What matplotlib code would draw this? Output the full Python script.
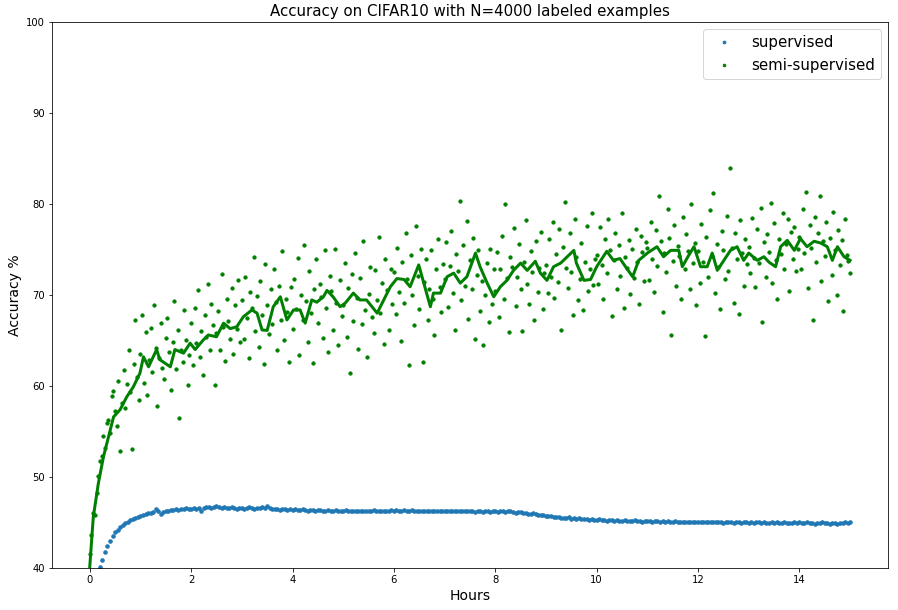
import numpy as np
import matplotlib
matplotlib.use("Agg")
import matplotlib.pyplot as plt

# ---- data ----
supervised_acc = [
    36.0, 37.2, 38.3, 39.3, 40.1, 40.9, 41.7, 42.4, 43.0, 43.5, 43.9, 44.2, 44.5, 44.7, 44.9, 45.1, 45.3, 45.4, 45.5, 45.6,
    45.7, 45.8, 45.9, 46.0, 46.0, 46.1, 46.5, 46.3, 45.9, 46.1, 46.2, 46.3, 46.4, 46.4, 46.5, 46.4, 46.5, 46.5, 46.6, 46.5,
    46.5, 46.6, 46.5, 46.6, 46.3, 46.6, 46.7, 46.7, 46.6, 46.7, 46.8, 46.7, 46.6, 46.7, 46.6, 46.6, 46.7, 46.6, 46.5, 46.6,
    46.6, 46.5, 46.6, 46.7, 46.6, 46.5, 46.6, 46.6, 46.7, 46.6, 46.8, 46.6, 46.5, 46.5, 46.5, 46.4, 46.5, 46.5, 46.4, 46.5,
    46.4, 46.5, 46.4, 46.4, 46.5, 46.4, 46.3, 46.4, 46.4, 46.3, 46.4, 46.4, 46.3, 46.3, 46.4, 46.3, 46.3, 46.4, 46.3, 46.3,
    46.3, 46.4, 46.3, 46.2, 46.3, 46.3, 46.2, 46.3, 46.3, 46.2, 46.3, 46.3, 46.4, 46.3, 46.3, 46.2, 46.3, 46.3, 46.3, 46.4,
    46.3, 46.4, 46.3, 46.3, 46.4, 46.3, 46.3, 46.4, 46.3, 46.2, 46.3, 46.3, 46.2, 46.3, 46.2, 46.2, 46.3, 46.2, 46.2, 46.3,
    46.2, 46.2, 46.3, 46.2, 46.2, 46.3, 46.2, 46.2, 46.2, 46.3, 46.2, 46.2, 46.1, 46.2, 46.2, 46.1, 46.2, 46.2, 46.1, 46.2,
    46.2, 46.1, 46.2, 46.2, 46.1, 46.2, 46.2, 46.1, 46.0, 46.1, 46.1, 46.0, 46.0, 45.9, 45.9, 46.0, 45.9, 45.8, 45.8, 45.8,
    45.7, 45.7, 45.7, 45.6, 45.6, 45.6, 45.5, 45.5, 45.5, 45.6, 45.4, 45.5, 45.4, 45.5, 45.4, 45.4, 45.4, 45.3, 45.4, 45.3,
    45.3, 45.4, 45.3, 45.3, 45.2, 45.3, 45.3, 45.2, 45.3, 45.2, 45.2, 45.3, 45.2, 45.2, 45.2, 45.3, 45.2, 45.2, 45.1, 45.2,
    45.2, 45.2, 45.1, 45.2, 45.2, 45.1, 45.2, 45.1, 45.2, 45.1, 45.1, 45.2, 45.1, 45.1, 45.1, 45.0, 45.1, 45.1, 45.0, 45.1,
    45.1, 45.0, 45.1, 45.1, 45.0, 45.1, 45.0, 45.0, 45.1, 45.0, 44.9, 45.0, 45.1, 45.0, 44.9, 45.0, 45.0, 44.9, 45.0, 45.0,
    44.9, 45.0, 44.9, 45.0, 45.0, 44.9, 45.0, 44.9, 44.9, 45.0, 44.9, 45.0, 44.9, 44.9, 45.0, 44.9, 44.9, 44.9, 45.0, 44.9,
    45.0, 44.9, 44.9, 45.0, 44.9, 44.9, 44.8, 44.9, 44.9, 45.0, 44.9, 44.9, 44.8, 44.9, 44.9, 44.8, 44.9, 44.9, 45.0, 44.9, 45.0,
]

semi_acc = [
    41.5, 43.6, 46.0, 45.8, 48.2, 50.1, 51.8, 52.3, 54.5, 53.2, 55.9, 56.3, 54.8, 58.9, 59.4, 57.2, 55.6, 60.5, 52.8, 58.1, 61.8, 57.6, 60.2, 63.9, 59.3, 53.1, 62.4, 67.2, 61.0, 58.4,
    63.5, 67.8, 60.3, 65.9, 59.0, 62.8, 66.4, 61.5, 68.9, 64.2, 57.8, 63.1, 66.9, 62.0, 60.8, 65.3, 67.5, 63.7, 59.6, 64.8, 69.3, 61.9, 66.2, 56.5, 64.0, 62.6, 68.3, 65.1, 60.1, 63.4,
    66.9, 62.3, 68.6, 64.7, 70.5, 63.2, 66.0, 61.2, 67.8, 65.4, 71.2, 63.9, 69.0, 66.7, 60.1, 65.8, 68.2, 64.0, 72.3, 66.5, 62.7, 69.6, 67.1, 65.2, 70.8, 63.5, 68.9, 66.3, 71.6, 64.8,
    69.4, 65.2, 72.0, 67.5, 63.1, 70.3, 68.6, 74.2, 66.0, 69.9, 64.3, 71.5, 67.8, 62.4, 73.4, 68.9, 65.7, 70.6, 66.8, 72.8, 69.2, 63.9, 71.0, 67.3, 74.8, 65.0, 69.6, 68.1, 62.6, 70.9,
    66.3, 71.8, 68.4, 74.1, 63.4, 70.0, 67.2, 75.5, 69.3, 64.8, 72.6, 68.0, 62.5, 70.7, 73.9, 66.9, 71.2, 69.8, 65.3, 74.9, 68.6, 63.7, 72.1, 70.4, 66.1, 75.0, 69.1, 64.5, 71.6, 67.7,
    68.9, 73.5, 65.4, 70.8, 61.4, 72.3, 67.1, 74.6, 69.7, 64.1, 71.9, 66.8, 75.9, 68.3, 63.2, 70.1, 73.1, 67.6, 65.8, 72.7, 69.4, 76.4, 68.0, 71.3, 64.6, 74.0, 70.5, 66.2, 72.9, 69.0,
    72.5, 67.9, 75.2, 70.3, 64.9, 73.6, 69.1, 76.8, 71.7, 62.3, 74.4, 70.0, 66.7, 77.6, 72.1, 68.5, 75.0, 62.6, 71.4, 73.9, 67.3, 70.6, 74.9, 69.6, 65.6, 72.8, 76.2, 70.9, 68.1, 73.4,
    71.8, 75.8, 68.7, 73.2, 77.0, 70.2, 66.1, 74.5, 72.6, 80.3, 69.4, 75.5, 71.0, 78.1, 67.4, 73.8, 70.7, 76.3, 65.2, 72.2, 74.9, 68.2, 71.5, 64.5, 70.0, 73.5, 67.0, 75.1, 69.0, 72.9,
    70.4, 74.7, 67.6, 72.8, 76.5, 69.5, 80.0, 71.9, 65.9, 74.2, 73.1, 77.4, 68.8, 72.0, 75.6, 70.6, 66.0, 73.6, 78.2, 71.2, 69.0, 74.8, 72.5, 67.3, 75.9, 70.3, 73.0, 76.9, 68.4, 72.4,
    73.3, 70.2, 76.1, 72.0, 78.0, 69.7, 74.5, 71.4, 77.2, 66.1, 75.3, 80.2, 73.0, 70.8, 76.8, 72.5, 67.8, 78.3, 74.2, 69.4, 71.8, 75.7, 68.3, 73.6, 77.6, 70.4, 72.9, 79.0, 71.1, 74.0,
    74.4, 71.2, 77.5, 73.3, 69.6, 76.2, 72.4, 78.4, 74.9, 67.7, 73.8, 76.8, 70.7, 75.5, 72.1, 79.0, 68.6, 74.2, 73.0, 76.0, 70.1, 75.0, 71.9, 77.3, 73.6, 69.0, 76.5, 74.7, 71.5, 75.8,
    75.2, 71.6, 78.0, 74.0, 70.3, 77.1, 73.2, 80.9, 75.9, 68.1, 74.6, 72.5, 79.4, 76.3, 65.6, 73.7, 77.7, 71.0, 75.4, 74.3, 69.5, 78.6, 72.8, 76.7, 74.8, 70.6, 80.0, 73.5, 75.7, 68.9,
    74.8, 71.3, 77.8, 73.6, 65.5, 76.4, 72.0, 79.3, 74.3, 81.2, 70.2, 75.6, 73.1, 68.4, 77.0, 74.9, 71.7, 78.7, 72.6, 84.0, 75.2, 69.1, 76.8, 73.9, 67.9, 78.2, 74.6, 71.0, 76.1, 73.4,
    75.3, 72.4, 78.5, 74.1, 70.9, 77.2, 73.5, 79.6, 67.0, 75.8, 72.0, 76.7, 74.7, 80.1, 71.3, 77.9, 73.8, 69.6, 76.1, 74.5, 79.0, 72.8, 75.6, 78.3, 70.4, 76.9, 74.0, 77.5, 72.6, 75.1,
    76.4, 72.9, 79.4, 74.6, 81.3, 70.8, 77.7, 75.2, 67.2, 78.6, 73.6, 76.8, 80.9, 71.5, 75.9, 74.3, 78.0, 69.3, 76.3, 72.2, 79.1, 74.9, 70.0, 77.1, 73.3, 76.0, 68.2, 78.4, 74.4, 73.7, 72.4,
]

smooth_hours = [
    0, 0.07, 0.17, 0.27, 0.37, 0.47, 0.6, 0.73, 0.86, 0.99, 1.06, 1.16, 1.32, 1.38, 1.59, 1.68, 1.85, 1.98,
    2.08, 2.24, 2.34, 2.5, 2.64, 2.77, 2.9, 3.03, 3.2, 3.3, 3.4, 3.5, 3.62, 3.76, 3.89, 4.02, 4.15, 4.25,
    4.38, 4.48, 4.61, 4.68, 4.8, 4.94, 5.04, 5.2, 5.33, 5.46, 5.67, 5.8, 5.93, 6.06, 6.2, 6.32, 6.49, 6.59,
    6.72, 6.78, 6.92, 7.05, 7.18, 7.31, 7.44, 7.61, 7.7, 7.84, 7.97, 8.1, 8.23, 8.36, 8.5, 8.63, 8.79, 8.89,
    9.02, 9.15, 9.29, 9.42, 9.55, 9.6, 9.75, 9.88, 10.0, 10.2, 10.33, 10.46, 10.57, 10.71, 10.83, 11.0,
    11.19, 11.32, 11.46, 11.62, 11.69, 11.8, 11.92, 12.05, 12.18, 12.28, 12.38, 12.51, 12.64, 12.77, 12.9,
    13.0, 13.17, 13.3, 13.4, 13.53, 13.63, 13.76, 13.9, 14.02, 14.15, 14.29, 14.42, 14.55, 14.65, 14.75,
    14.88, 15.0,
]
smooth_acc = [
    40.1, 45.6, 49.3, 52.2, 54.4, 56.6, 57.4, 58.8, 59.9, 61.4, 63.2, 62.1, 64.0, 62.9, 62.1, 64.0, 63.6, 64.7,
    64.0, 65.05, 65.6, 65.4, 66.9, 66.3, 66.5, 67.6, 68.35, 68.0, 66.15, 66.1, 68.7, 69.8, 67.25, 68.35, 68.35, 66.9,
    69.45, 69.2, 69.8, 70.5, 69.8, 68.7, 69.1, 70.2, 69.45, 69.45, 68.0, 69.45, 70.9, 71.8, 71.7, 70.9, 73.3, 71.3,
    68.7, 70.2, 70.2, 72.0, 72.4, 71.3, 72.0, 74.6, 73.1, 71.3, 69.8, 70.9, 71.6, 72.7, 73.5, 72.7, 73.7, 72.4,
    71.6, 73.1, 73.5, 74.2, 74.9, 73.5, 71.6, 71.7, 73.1, 74.8, 73.8, 74.0, 73.1, 72.0, 73.8, 74.6,
    75.3, 74.2, 74.9, 74.9, 73.1, 74.2, 75.3, 73.1, 73.1, 74.6, 72.7, 73.8, 74.9, 75.3, 73.8,
    74.6, 73.8, 74.2, 73.6, 73.1, 75.3, 76.0, 74.9, 76.2, 75.3, 75.9, 75.7, 75.3, 73.8, 75.3,
    74.2, 73.8,
]

x_ticks = [0, 2, 4, 6, 8, 10, 12, 14]
y_ticks = [40, 50, 60, 70, 80, 90, 100]

sup_hours = np.linspace(0, 15, len(supervised_acc))
semi_hours = np.linspace(0, 15, len(semi_acc))

# ---- figure ----
fig = plt.figure(figsize=(898 / 72, 610 / 72), dpi=72)
ax = fig.add_axes([0.0576, 0.069, 0.9314, 0.895])

ax.plot(sup_hours, supervised_acc, '.', color='#1f77b4', markersize=7, label='supervised')
ax.plot(semi_hours, semi_acc, '.', color='green', markersize=6.5, label='semi-supervised')
ax.plot(smooth_hours, smooth_acc, '-', color='green', linewidth=3)

ax.set_xlim(-0.75, 15.75)
ax.set_ylim(40, 100)
ax.set_xticks(x_ticks)
ax.set_yticks(y_ticks)
ax.tick_params(labelsize=10)
ax.set_title('Accuracy on CIFAR10 with N=4000 labeled examples', fontsize=15)
ax.set_xlabel('Hours', fontsize=14)
ax.set_ylabel('Accuracy %', fontsize=14)
ax.legend(loc='upper right', fontsize=15, markerscale=0.8)

fig.savefig('out.png', dpi=72)
